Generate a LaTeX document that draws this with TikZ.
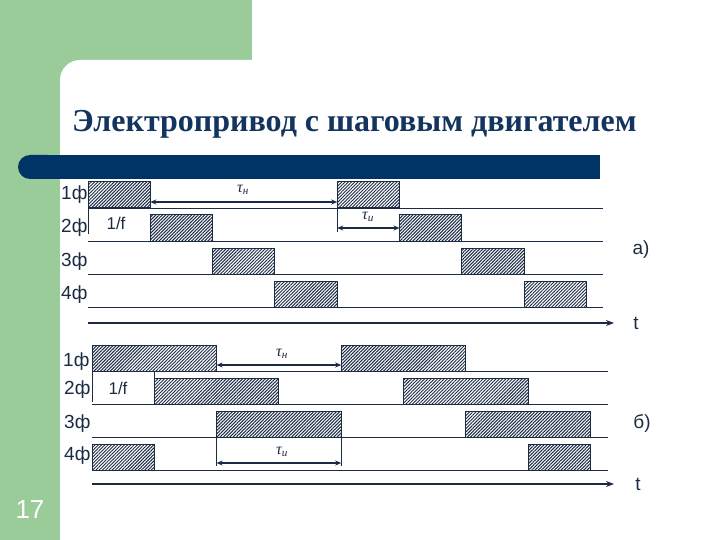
\documentclass[tikz,border=0pt]{standalone}
\usepackage{fontspec}
\setmainfont{Liberation Serif}
\setsansfont{Liberation Sans}
\usetikzlibrary{patterns.meta,arrows.meta}
\definecolor{slidegreen}{HTML}{99CC99}
\definecolor{barblue}{HTML}{003366}
\definecolor{titleblue}{HTML}{12345E}
\definecolor{ink}{HTML}{1C2B44}
\tikzset{
  phase/.style={font=\sffamily\fontsize{19}{21}\selectfont, text=ink, inner sep=0pt},
  pulse/.style={draw=ink, line width=1pt, pattern={Lines[angle=45,distance=2.3pt,line width=1pt]}, pattern color=ink},
  wire/.style={draw=ink, line width=0.9pt},
  timeaxis/.style={draw=ink, line width=2.2pt, -{Stealth[length=8pt,width=6pt]}},
  span/.style={draw=ink, line width=2pt, {Stealth[length=6pt,width=5pt]}-{Stealth[length=6pt,width=5pt]}},
  tick/.style={draw=ink, line width=0.9pt},
  tau/.style={font=\fontsize{16}{18}\selectfont\itshape, text=ink, inner sep=0pt}
}
\begin{document}
\begin{tikzpicture}[x=1pt,y=-1pt]
  \useasboundingbox (0,0) rectangle (720,540);
  % slide background
  \fill[slidegreen] (0,0) rectangle (252,540);
  \fill[white, rounded corners=20pt] (60,60) rectangle (760,580);
  \fill[barblue, rounded corners=12pt] (18,155) rectangle (60,179);
  \fill[barblue] (40,155) rectangle (600,179);
  \node[anchor=base west, font=\bfseries\fontsize{32}{35}\selectfont, text=titleblue, inner sep=0pt]
    (title) at (72,132) {Электропривод с шаговым двигателем};
  \node[font=\sffamily\fontsize{26}{28}\selectfont, text=white] (pagenum) at (30,510) {17};

  % a) full step
  \node[phase, anchor=west] (a1) at (61,195) {1ф};
  \node[phase, anchor=west] (a2) at (61,228) {2ф};
  \node[phase, anchor=west] (a3) at (61,262) {3ф};
  \node[phase, anchor=west] (a4) at (61,295) {4ф};
  \draw[wire] (88,208) -- (603,208);
  \draw[wire] (88,241) -- (603,241);
  \draw[wire] (88,274) -- (603,274);
  \draw[wire] (88,307) -- (603,307);
  \draw[pulse] (88,182) rectangle (150.3,208);
  \draw[pulse] (337.2,182) rectangle (399.5,208);
  \draw[pulse] (150.3,215) rectangle (212.6,241);
  \draw[pulse] (399.5,215) rectangle (461.8,241);
  \draw[pulse] (212.6,248) rectangle (274.9,274);
  \draw[pulse] (461.8,248) rectangle (524.1,274);
  \draw[pulse] (274.9,281) rectangle (337.2,307);
  \draw[pulse] (524.1,281) rectangle (586.4,307);
  \draw[tick] (88,208) -- (88,234);
  \node[phase, font=\sffamily\fontsize{17}{19}\selectfont] (af) at (116,223) {1/f};
  \coordinate (an1) at (150.3,202);
  \coordinate (an2) at (337.2,202);
  \draw[span] (an1) -- (an2);
  \node[tau] (antau) at (243,190) {τ\textsubscript{н}};
  \draw[tick] (337.2,208) -- (337.2,232);
  \coordinate (ai1) at (337.2,228);
  \coordinate (ai2) at (399.5,228);
  \draw[span] (ai1) -- (ai2);
  \node[tau] (aitau) at (368,217) {τ\textsubscript{и}};
  \coordinate (at0) at (88,323);
  \coordinate (at1) at (614,323);
  \draw[timeaxis] (at0) -- (at1);
  \node[phase] (at) at (636,323) {t};
  \node[phase] (acase) at (641,250) {а)};

  % b) two phases on
  \node[phase, anchor=west] (b1) at (63,362) {1ф};
  \node[phase, anchor=west] (b2) at (64,390) {2ф};
  \node[phase, anchor=west] (b3) at (64,424) {3ф};
  \node[phase, anchor=west] (b4) at (64,456) {4ф};
  \draw[wire] (92,371) -- (608,371);
  \draw[wire] (92,404) -- (608,404);
  \draw[wire] (92,437) -- (608,437);
  \draw[wire] (92,470) -- (608,470);
  \draw[pulse] (92,345) rectangle (216.6,371);
  \draw[pulse] (341.2,345) rectangle (465.8,371);
  \draw[pulse] (154.3,378) rectangle (278.9,404);
  \draw[pulse] (403.5,378) rectangle (528.1,404);
  \draw[pulse] (216.6,411) rectangle (341.2,437);
  \draw[pulse] (465.8,411) rectangle (590.4,437);
  \draw[pulse] (92,444) rectangle (154.3,470);
  \draw[pulse] (528.1,444) rectangle (590.4,470);
  \draw[tick] (92,371) -- (92,402);
  \draw[tick] (154.3,371) -- (154.3,378);
  \node[phase, font=\sffamily\fontsize{17}{19}\selectfont] (bf) at (118,388) {1/f};
  \coordinate (bn1) at (216.6,365);
  \coordinate (bn2) at (341.2,365);
  \draw[span] (bn1) -- (bn2);
  \node[tau] (bntau) at (282,354) {τ\textsubscript{н}};
  \draw[tick] (216.6,437) -- (216.6,466);
  \draw[tick] (341.2,437) -- (341.2,466);
  \coordinate (bi1) at (216.6,463);
  \coordinate (bi2) at (341.2,463);
  \draw[span] (bi1) -- (bi2);
  \node[tau] (bitau) at (282,452) {τ\textsubscript{и}};
  \coordinate (bt0) at (92,484);
  \coordinate (bt1) at (614,484);
  \draw[timeaxis] (bt0) -- (bt1);
  \node[phase] (bt) at (638,484) {t};
  \node[phase] (bcase) at (642,423) {б)};
\end{tikzpicture}
\end{document}
